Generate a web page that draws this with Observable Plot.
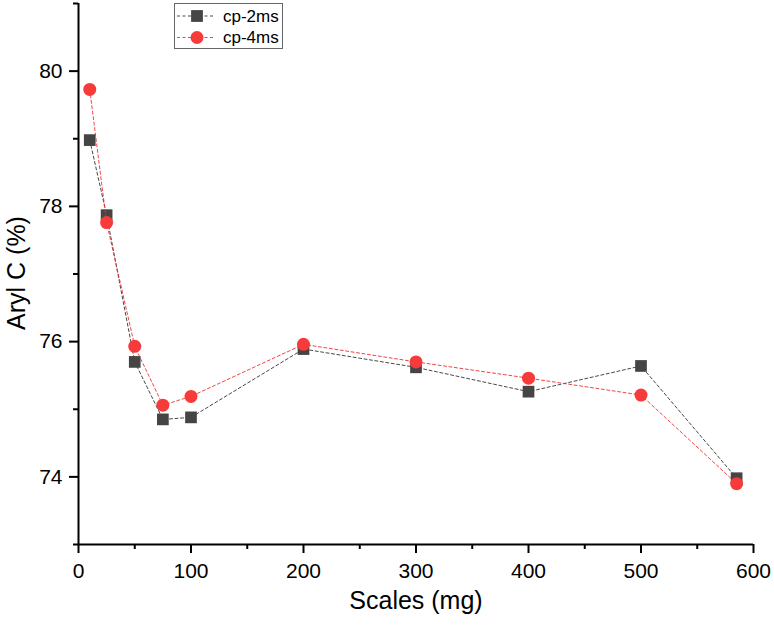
<!DOCTYPE html>
<html>
<head>
<meta charset="utf-8">
<script src="https://cdn.jsdelivr.net/npm/d3@7"></script>
<script src="https://cdn.jsdelivr.net/npm/@observablehq/plot@0.6"></script>
<style>
  html, body { margin: 0; padding: 0; background: #fff; }
  #wrap { position: relative; width: 774px; height: 633px; font-family: "Liberation Sans", Arial, sans-serif; }
  #legend { position: absolute; left: 174px; top: 3px; }
  #ytitle { position: absolute; left: 16px; top: 273px; transform: translate(-50%, -50%) rotate(-90deg); font-size: 25px; white-space: nowrap; color: #000; line-height: 1; }
</style>
</head>
<body>
<div id="wrap"></div>
<script>
const xs = [10, 25, 50, 75, 100, 200, 300, 400, 500, 585];
const cp2ms = [78.98, 77.87, 75.70, 74.85, 74.88, 75.89, 75.62, 75.26, 75.64, 73.98];
const cp4ms = [79.73, 77.76, 75.93, 75.06, 75.19, 75.96, 75.70, 75.46, 75.21, 73.90];
const seriesNames = ["cp-2ms", "cp-4ms"];
const xMajorTicks = [0, 100, 200, 300, 400, 500, 600];
const xMinorTicks = [50, 150, 250, 350, 450, 550];
const yMajorTicks = [74, 76, 78, 80];
const yMinorTicks = [73, 75, 77, 79, 81];
const xTitle = "Scales (mg)";
const yTitle = "Aryl C (%)";

const colors = { "cp-2ms": "#454545", "cp-4ms": "#f73a3a" };
const lineColors = { "cp-2ms": "#333333", "cp-4ms": "#ee3030" };

const d2 = xs.map((x, i) => ({ x, y: cp2ms[i], s: seriesNames[0] }));
const d4 = xs.map((x, i) => ({ x, y: cp4ms[i], s: seriesNames[1] }));

const font = '"Liberation Sans", Arial, sans-serif';

const chart = Plot.plot({
  width: 774,
  height: 633,
  marginLeft: 78,
  marginRight: 21,
  marginTop: 3,
  marginBottom: 89,
  x: { domain: [0, 600] },
  y: { domain: [73, 81] },
  style: { fontFamily: font, fontSize: "21px", color: "#000", background: "#fff", overflow: "visible" },
  marks: [
    Plot.axisX(xMajorTicks, { tickSize: 9, tickPadding: 10, strokeWidth: 2, label: null, fontSize: 21, tickFormat: d => String(d) }),
    Plot.axisX(xMinorTicks, { tickSize: 5, strokeWidth: 2, text: null, label: null }),
    Plot.axisY(yMajorTicks, { tickSize: 9, tickPadding: 7, strokeWidth: 2, label: null, fontSize: 21, tickFormat: d => String(d) }),
    Plot.axisY(yMinorTicks, { tickSize: 5, strokeWidth: 2, text: null, label: null }),
    Plot.ruleX([0], { strokeWidth: 2, stroke: "#000" }),
    Plot.ruleY([73], { strokeWidth: 2, stroke: "#000" }),
    Plot.line(d2, { x: "x", y: "y", stroke: lineColors["cp-2ms"], strokeWidth: 0.9, strokeDasharray: "3,2.5" }),
    Plot.dot(d2, { x: "x", y: "y", symbol: "square", r: 6.6, fill: colors["cp-2ms"], stroke: "none" }),
    Plot.line(d4, { x: "x", y: "y", stroke: lineColors["cp-4ms"], strokeWidth: 0.9, strokeDasharray: "3,2.5" }),
    Plot.dot(d4, { x: "x", y: "y", symbol: "circle", r: 6.5, fill: colors["cp-4ms"], stroke: "none" }),
    Plot.text([xTitle], { frameAnchor: "bottom", dy: 64, fontSize: 25, fill: "#000" })
  ]
});

const wrap = document.getElementById("wrap");
wrap.appendChild(chart);

// Y title (rotated HTML text)
const yt = document.createElement("div");
yt.id = "ytitle";
yt.textContent = yTitle;
wrap.appendChild(yt);

// Legend
const lg = d3.create("svg")
  .attr("id", "legend")
  .attr("width", 110)
  .attr("height", 47)
  .style("font-family", font);
lg.append("rect").attr("x", 0.5).attr("y", 0.5).attr("width", 108).attr("height", 45)
  .attr("fill", "#fff").attr("stroke", "#666").attr("stroke-width", 1);
seriesNames.forEach((name, i) => {
  const cy = 13 + i * 21.5;
  lg.append("line").attr("x1", 3).attr("x2", 40).attr("y1", cy).attr("y2", cy)
    .attr("stroke", lineColors[name]).attr("stroke-width", 0.9).attr("stroke-dasharray", "3,2.5");
  if (i === 0) {
    lg.append("rect").attr("x", 23 - 5.9).attr("y", cy - 5.9).attr("width", 11.8).attr("height", 11.8)
      .attr("fill", colors[name]);
  } else {
    lg.append("circle").attr("cx", 23).attr("cy", cy).attr("r", 6.5).attr("fill", colors[name]);
  }
  lg.append("text").attr("x", 49).attr("y", cy).attr("dy", "0.35em")
    .attr("font-size", 17).attr("fill", "#000").text(name);
});
wrap.appendChild(lg.node());
</script>
</body>
</html>
